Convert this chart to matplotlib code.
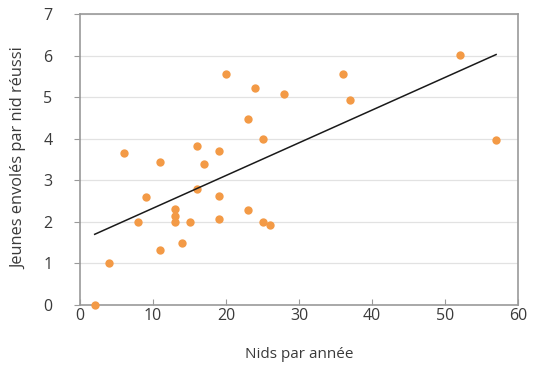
import matplotlib
matplotlib.use("Agg")
import matplotlib.pyplot as plt

nests = [2, 4, 6, 8, 9, 11, 11, 13, 13, 13, 14, 15, 16, 16, 17, 19, 19, 19,
         20, 23, 23, 24, 25, 25, 26, 28, 36, 37, 52, 57]
young = [0.0, 1.0, 3.67, 2.0, 2.6, 3.43, 1.33, 2.32, 2.13, 2.0, 1.5, 2.0,
         3.83, 2.8, 3.4, 3.71, 2.63, 2.08, 5.57, 4.48, 2.29, 5.22, 4.0, 2.0,
         1.92, 5.09, 5.57, 4.94, 6.03, 3.98]
trend_x = [2, 57]
trend_y = [1.70, 6.03]
xticks = [0, 10, 20, 30, 40, 50, 60]
yticks = [0, 1, 2, 3, 4, 5, 6, 7]

plt.rcParams['font.family'] = ['Open Sans', 'DejaVu Sans']
txt = '#3a3a3a'
spine = '#9a9a9a'

fig = plt.figure(figsize=(5.34, 3.66), dpi=100)
ax = fig.add_axes([0.150, 0.167, 0.820, 0.794])

ax.set_xlim(0, 60)
ax.set_ylim(0, 7)
ax.set_xticks(xticks)
ax.set_yticks(yticks)
ax.yaxis.grid(True, color='#e2e2e2', linewidth=0.9)
ax.set_axisbelow(True)

ax.scatter(nests, young, s=36, color='#f39a46', zorder=3, clip_on=False, linewidths=0)
ax.plot(trend_x, trend_y, color='#1a1a1a', linewidth=1.1, zorder=4)

for s in ax.spines.values():
    s.set_color(spine)
    s.set_linewidth(1.2)

ax.tick_params(axis='y', direction='out', length=4, color=spine, labelsize=11.5, labelcolor=txt, pad=16)
ax.tick_params(axis='x', direction='in', length=4, color=spine, labelsize=11.5, labelcolor=txt, pad=2)

ax.set_xlabel('Nids par année', fontsize=11, color=txt)
ax.xaxis.set_label_coords(0.5, -0.145)
ax.set_ylabel('Jeunes envolés par nid réussi', fontsize=11.8, color=txt)
ax.yaxis.set_label_coords(-0.12, 0.505)

fig.savefig('out.png', dpi=100)
